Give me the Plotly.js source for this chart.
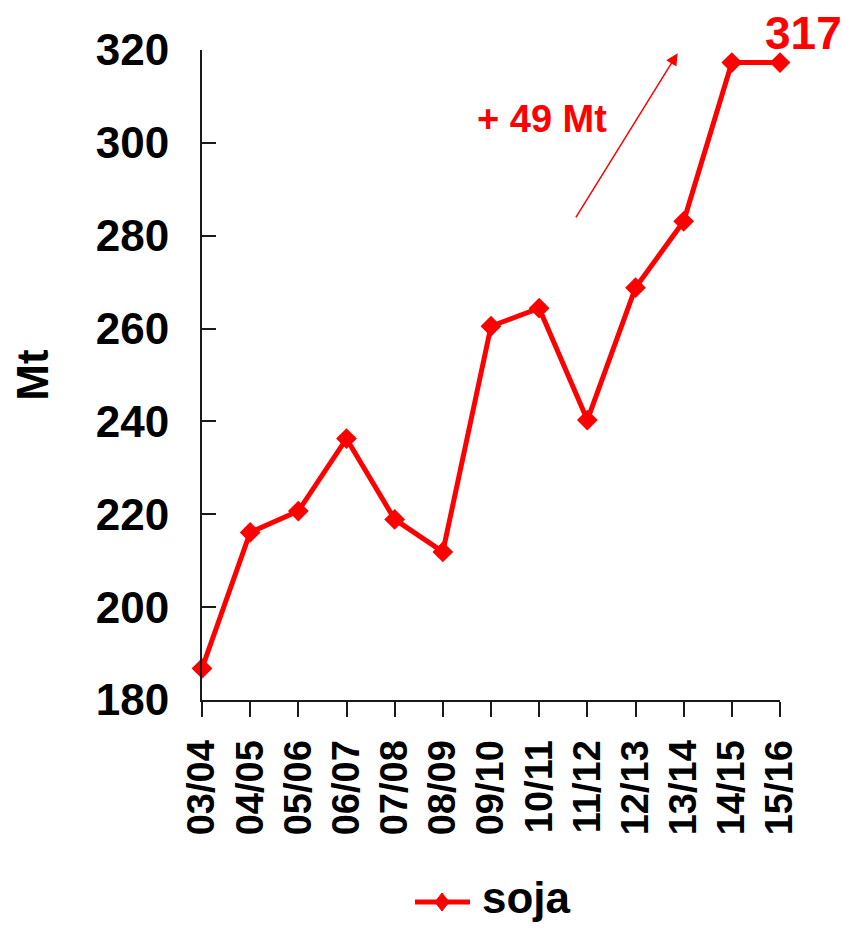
<!DOCTYPE html>
<html>
<head>
<meta charset="utf-8">
<script src="https://cdn.plot.ly/plotly-3.0.1.min.js"></script>
<style>html,body{margin:0;padding:0;background:#fff;}#chart{width:843px;height:928px;}</style>
</head>
<body>
<div id="chart"></div>
<script>
const seasons = ["03/04","04/05","05/06","06/07","07/08","08/09","09/10","10/11","11/12","12/13","13/14","14/15","15/16"];
const soja = [186.8, 216.1, 220.7, 236.3, 218.9, 211.9, 260.5, 264.4, 240.3, 268.8, 283.1, 317.3, 317.3];
const yTicks = [180, 200, 220, 240, 260, 280, 300, 320];
const seriesName = "soja";
const finalLabel = "317";
const growthLabel = "+ 49 Mt";

const FONT = "Liberation Sans, Arial, sans-serif";
const RED = "#ff0000";

const trace = {
  x: seasons,
  y: soja,
  name: seriesName,
  type: "scatter",
  mode: "lines+markers",
  line: {color: RED, width: 5},
  marker: {symbol: "diamond", size: 16, color: RED},
  cliponaxis: false,
  showlegend: false
};

// legend key (drawn in paper coordinates, below the plot)
const keyY = -0.3108;
const keyX0 = 0.3685, keyX1 = 0.4637, keyXc = 0.4152;
const dX = 7 / 578, dY = 9 / 650;

const layout = {
  width: 843, height: 928,
  margin: {l: 202, r: 63, t: 50, b: 228, pad: 0, autoexpand: false},
  paper_bgcolor: "#fff", plot_bgcolor: "#fff",
  font: {family: FONT, color: "#000"},
  showlegend: false,
  xaxis: {
    type: "category", range: [0, 12], showgrid: false, zeroline: false,
    showline: true, linecolor: "#1a1a1a", linewidth: 2,
    ticks: "outside", ticklen: 15, tickwidth: 2, tickcolor: "#1a1a1a",
    tickangle: -90, ticklabelstandoff: 8, automargin: false,
    tickfont: {family: FONT, size: 38, weight: "bold", color: "#000"},
    fixedrange: true
  },
  yaxis: {
    range: [180, 320], tickvals: yTicks, ticktext: yTicks.map(String),
    showgrid: false, zeroline: false,
    showline: true, linecolor: "#1a1a1a", linewidth: 2,
    ticks: "inside", ticklen: 14, tickwidth: 2, tickcolor: "#1a1a1a",
    ticklabelstandoff: 22, automargin: false,
    tickfont: {family: FONT, size: 44, weight: "bold", color: "#000"},
    title: {text: "Mt", standoff: 33, font: {family: FONT, size: 44, weight: "bold", color: "#000"}},
    fixedrange: true
  },
  shapes: [
    {type: "line", xref: "paper", yref: "paper", x0: keyX0, x1: keyX1, y0: keyY, y1: keyY,
     line: {color: RED, width: 5}},
    {type: "path", xref: "paper", yref: "paper",
     path: `M${keyXc - dX},${keyY} L${keyXc},${keyY + dY} L${keyXc + dX},${keyY} L${keyXc},${keyY - dY} Z`,
     fillcolor: RED, line: {color: RED, width: 1}}
  ],
  annotations: [
    {xref: "paper", yref: "paper", x: 0.481, y: -0.3046, xanchor: "left", yanchor: "middle",
     text: seriesName, showarrow: false,
     font: {family: FONT, size: 44, weight: "bold", color: "#000"}},
    {xref: "paper", yref: "paper", x: 1.04, y: 1.026, xanchor: "center", yanchor: "middle",
     text: finalLabel, showarrow: false,
     font: {family: FONT, size: 46, weight: "bold", color: RED}},
    {xref: "x", yref: "y", x: 7.06, y: 305.1, xanchor: "center", yanchor: "middle",
     text: growthLabel, showarrow: false,
     font: {family: FONT, size: 38, weight: "bold", color: RED}},
    {xref: "x", yref: "y", x: 9.875, y: 319.3, text: "", showarrow: true,
     ax: -102.7, ay: 165.7, arrowhead: 2, arrowsize: 1.6, arrowwidth: 1.5, arrowcolor: RED, standoff: 0}
  ]
};

Plotly.newPlot("chart", [trace], layout, {staticPlot: true, displayModeBar: false});
</script>
</body>
</html>
